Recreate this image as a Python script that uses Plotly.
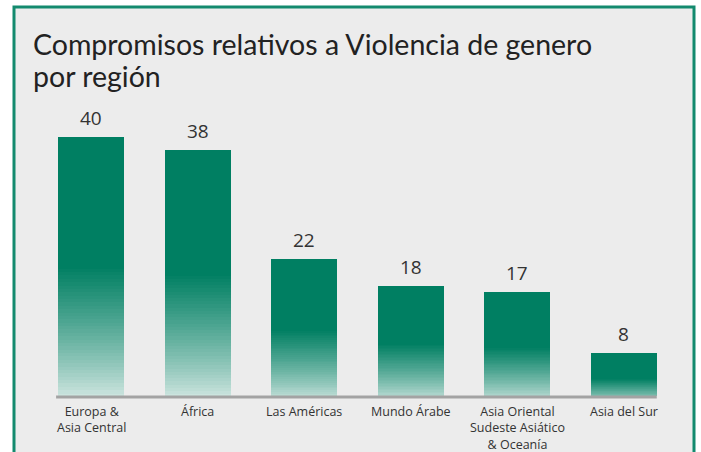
import plotly.graph_objects as go

categories = ["Europa &<br>Asia Central", "África", "Las Américas", "Mundo Árabe",
              "Asia Oriental<br>Sudeste Asiático<br>& Oceanía", "Asia del Sur"]
values = [40, 38, 22, 18, 17, 8]
title_lines = ["Compromisos relativos a Violencia de genero", "por región"]

W, H = 701, 452
ML, MR, MT, MB = 38, 24, 100, 56
PW, PH = W - ML - MR, H - MT - MB

def fx(px):
    return (px - ML) / PW

def fy(py):
    return (H - MB - py) / PH

dark = (0, 127, 98)
light = (236, 244, 242)
N = 80
fade = 0.52

fig = go.Figure()
xs = list(range(len(values)))
for j in range(N, 0, -1):
    t = (j - 0.5) / N
    s = min(1.0, t / fade) ** 0.8
    c = tuple(round(light[i] + (dark[i] - light[i]) * s) for i in range(3))
    fig.add_trace(go.Bar(
        x=xs, y=[v * j / N for v in values],
        marker=dict(color="rgb(%d,%d,%d)" % c, line=dict(width=0)),
        width=0.62, hoverinfo="skip", showlegend=False,
    ))

for i, v in enumerate(values):
    fig.add_annotation(x=i, y=v, text=str(v), showarrow=False, yanchor="bottom",
                       yshift=4, font=dict(family="Open Sans", size=19, color="#333333"))

for i, cat in enumerate(categories):
    fig.add_annotation(x=i, xref="x", yref="paper", y=fy(402), text=cat,
                       showarrow=False, yanchor="top", borderpad=0,
                       font=dict(family="Open Sans", size=12.5, color="#333333"))

title_font = dict(family="Lato", size=28.5, color="#222222")
fig.add_annotation(xref="paper", yref="paper", x=fx(31), y=fy(44), xanchor="left",
                   yanchor="middle", text=title_lines[0], showarrow=False, font=title_font)
fig.add_annotation(xref="paper", yref="paper", x=fx(31), y=fy(76), xanchor="left",
                   yanchor="middle", text=title_lines[1], showarrow=False, font=title_font)

# frame
fig.add_shape(type="rect", xref="paper", yref="paper", x0=fx(14), x1=fx(694),
              y0=fy(470), y1=fy(7), fillcolor="#ececec",
              line=dict(color="#138a6e", width=3), layer="below")
# baseline
fig.add_shape(type="line", xref="x", yref="paper", x0=-0.33, x1=5.31, y0=fy(397), y1=fy(397),
              line=dict(color="#a3a3a3", width=3), layer="above")

fig.update_layout(
    width=W, height=H, margin=dict(l=ML, r=MR, t=MT, b=MB),
    paper_bgcolor="white", plot_bgcolor="rgba(0,0,0,0)",
    barmode="overlay", bargap=0,
    xaxis=dict(range=[-0.5, 5.5], showticklabels=False, showgrid=False,
               zeroline=False, showline=False, ticks=""),
    yaxis=dict(range=[1.63, 45.48], visible=False, showgrid=False, zeroline=False),
)

fig.write_html("out.html", config={"displayModeBar": False},
               post_script="document.body.style.margin='0';")
